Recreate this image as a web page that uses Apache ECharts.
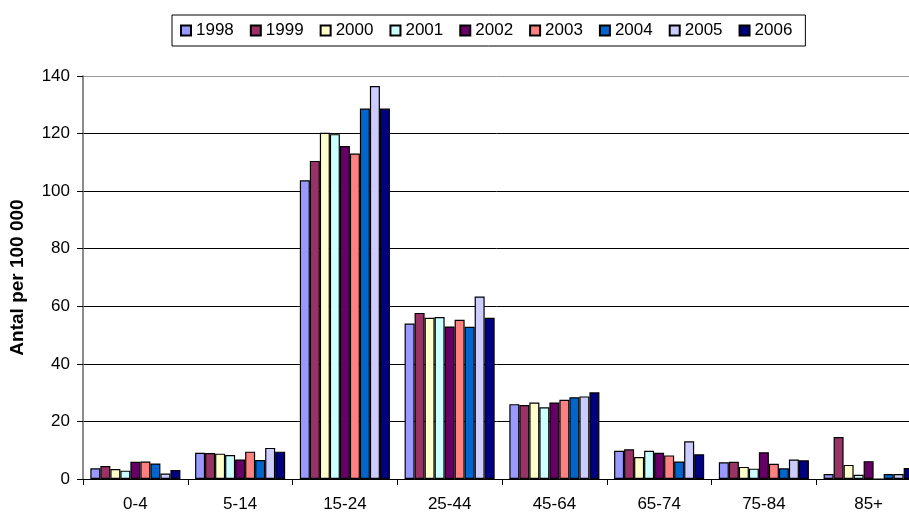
<!DOCTYPE html>
<html>
<head>
<meta charset="utf-8">
<script src="https://cdn.jsdelivr.net/npm/echarts@6/dist/echarts.min.js"></script>
<style>html,body{margin:0;padding:0;background:#fff;}#c{width:909px;height:516px;}</style>
</head>
<body>
<div id="c"></div>
<script>
const categories = ['0-4','5-14','15-24','25-44','45-64','65-74','75-84','85+'];
const years = ['1998','1999','2000','2001','2002','2003','2004','2005','2006'];
const y1998 = [3.7, 9.1, 103.8, 54.0, 26.0, 9.8, 5.8, 1.7];
const y1999 = [4.5, 9.0, 110.5, 57.7, 25.7, 10.3, 6.0, 14.6];
const y2000 = [3.5, 8.8, 120.3, 56.0, 26.6, 7.6, 4.2, 4.9];
const y2001 = [2.9, 8.3, 119.8, 56.3, 24.9, 9.8, 3.6, 1.5];
const y2002 = [6.0, 6.8, 115.7, 53.0, 26.6, 9.1, 9.3, 6.2];
const y2003 = [6.1, 9.5, 113.1, 55.3, 27.5, 8.2, 5.3, 0];
const y2004 = [5.4, 6.6, 128.7, 52.9, 28.4, 6.1, 3.7, 1.7];
const y2005 = [1.9, 10.8, 136.5, 63.4, 28.7, 13.1, 6.8, 1.7];
const y2006 = [3.1, 9.5, 128.7, 56.0, 30.1, 8.6, 6.5, 3.8];
const yTicks = [0, 20, 40, 60, 80, 100, 120, 140];
const colors = ['#9999FF','#993366','#FFFFCC','#CCFFFF','#660066','#FF8080','#0066CC','#CCCCFF','#000080'];
const allData = [y1998, y1999, y2000, y2001, y2002, y2003, y2004, y2005, y2006];

const font = 'Liberation Sans, Arial, sans-serif';
const chart = echarts.init(document.getElementById('c'), null, {renderer: 'canvas'});
chart.setOption({
  animation: false,
  color: colors,
  textStyle: {fontFamily: font},
  legend: {
    left: 172, top: 15,
    data: years,
    itemWidth: 10, itemHeight: 10, itemGap: 16,
    padding: [7, 13, 7, 8],
    borderColor: '#000', borderWidth: 1,
    icon: 'rect',
    textStyle: {fontSize: 17, color: '#000', fontFamily: font}
  },
  grid: {left: 83, width: 838, top: 76, height: 403, containLabel: false, outerBoundsMode: 'none'},
  xAxis: {
    type: 'category',
    data: categories,
    axisLine: {lineStyle: {color: '#000', width: 1}},
    axisTick: {show: true, length: 6, lineStyle: {color: '#000'}},
    axisLabel: {fontSize: 17, color: '#000', margin: 17, fontFamily: font}
  },
  yAxis: {
    type: 'value',
    min: yTicks[0], max: yTicks[yTicks.length - 1], interval: 20,
    name: 'Antal per 100 000',
    nameLocation: 'middle',
    nameRotate: 90,
    nameGap: 56,
    nameTextStyle: {fontSize: 19, fontWeight: 'bold', color: '#000', fontFamily: font},
    axisLine: {show: true, lineStyle: {color: '#666', width: 1.5}},
    axisTick: {show: true, length: 6, lineStyle: {color: '#000'}},
    axisLabel: {fontSize: 17, color: '#000', margin: 13, fontFamily: font},
    splitLine: {show: true, lineStyle: {color: ['#000','#000','#000','#000','#000','#000','#000','#999'], width: 1}}
  },
  series: years.map((y, i) => ({
    name: y,
    type: 'bar',
    data: allData[i],
    barGap: '0%',
    barCategoryGap: '14%',
    itemStyle: {color: colors[i], borderColor: '#000', borderWidth: 1.2}
  }))
});
</script>
</body>
</html>
